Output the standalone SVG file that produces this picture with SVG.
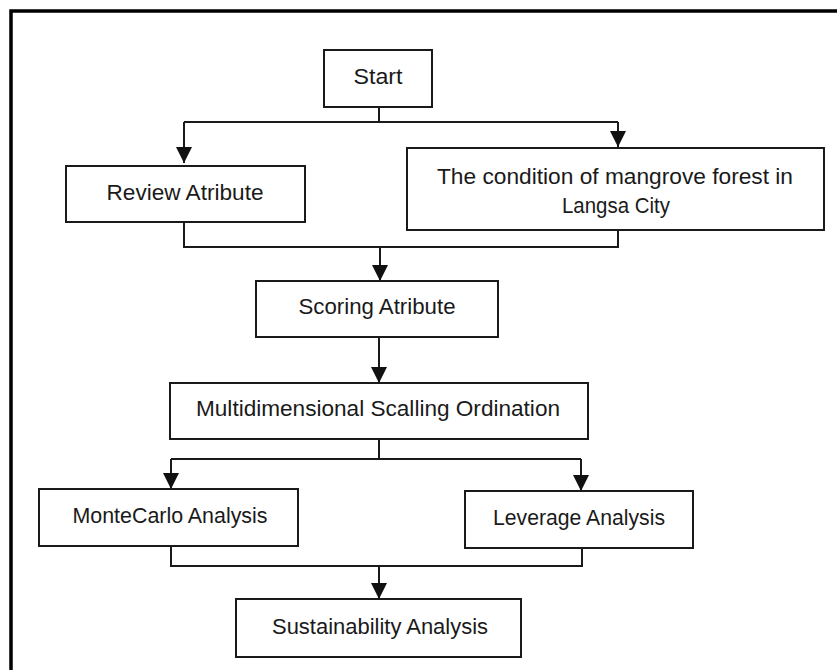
<svg xmlns="http://www.w3.org/2000/svg" width="837" height="670" viewBox="0 0 837 670">
  <defs>
    <marker id="arrow" viewBox="0 0 16 16" refX="16" refY="8" markerWidth="16" markerHeight="16" markerUnits="userSpaceOnUse" orient="auto">
      <polygon points="0,0 16,8 0,16" fill="#111"/>
    </marker>
  </defs>
  <style>
    .box { fill: #fff; stroke: #1a1a1a; stroke-width: 2; }
    .lbl { font-family: "Liberation Sans", Arial, sans-serif; font-size: 22px; fill: #1a1a1a; text-anchor: middle; }
    .conn { fill: none; stroke: #1a1a1a; stroke-width: 2; }
    .arr { fill: none; stroke: #1a1a1a; stroke-width: 2; marker-end: url(#arrow); }
  </style>
  <rect x="0" y="0" width="837" height="670" fill="#fff"/>
  <path d="M11,672 V11 H840" fill="none" stroke="#000" stroke-width="3.5"/>

  <g id="connectors">
    <path class="conn" d="M379,107 V122 M184,122 H618"/>
    <path class="arr" d="M184,122 V163"/>
    <path class="arr" d="M618,122 V147"/>
    <path class="conn" d="M184,222 V247 H618 V230"/>
    <path class="arr" d="M380,247 V281"/>
    <path class="arr" d="M379,337 V383"/>
    <path class="conn" d="M379,439 V459 M171,459 H581"/>
    <path class="arr" d="M171,459 V489"/>
    <path class="arr" d="M581,459 V491"/>
    <path class="conn" d="M171,546 V566 H582 V548"/>
    <path class="arr" d="M379,566 V599"/>
  </g>

  <g id="start">
    <rect class="box" x="324" y="50" width="108" height="57"/>
    <text class="lbl" x="378" y="84" textLength="49" lengthAdjust="spacingAndGlyphs">Start</text>
  </g>
  <g id="review">
    <rect class="box" x="66" y="166" width="239" height="56"/>
    <text class="lbl" x="185" y="200" textLength="157" lengthAdjust="spacingAndGlyphs">Review Atribute</text>
  </g>
  <g id="condition">
    <rect class="box" x="407" y="148" width="417" height="82"/>
    <text class="lbl" x="615" y="184" textLength="356" lengthAdjust="spacingAndGlyphs">The condition of mangrove  forest in</text>
    <text class="lbl" x="616" y="213" textLength="108" lengthAdjust="spacingAndGlyphs">Langsa City</text>
  </g>
  <g id="scoring">
    <rect class="box" x="256" y="281" width="242" height="56"/>
    <text class="lbl" x="377" y="314" textLength="157" lengthAdjust="spacingAndGlyphs">Scoring Atribute</text>
  </g>
  <g id="mds">
    <rect class="box" x="170" y="383" width="418" height="56"/>
    <text class="lbl" x="378" y="416" textLength="364" lengthAdjust="spacingAndGlyphs">Multidimensional Scalling Ordination</text>
  </g>
  <g id="montecarlo">
    <rect class="box" x="39" y="489" width="259" height="57"/>
    <text class="lbl" x="170" y="523" textLength="195" lengthAdjust="spacingAndGlyphs">MonteCarlo Analysis</text>
  </g>
  <g id="leverage">
    <rect class="box" x="465" y="491" width="228" height="57"/>
    <text class="lbl" x="579" y="525" textLength="172" lengthAdjust="spacingAndGlyphs">Leverage Analysis</text>
  </g>
  <g id="sustainability">
    <rect class="box" x="236" y="599" width="285" height="58"/>
    <text class="lbl" x="380" y="634" textLength="216" lengthAdjust="spacingAndGlyphs">Sustainability Analysis</text>
  </g>
</svg>
